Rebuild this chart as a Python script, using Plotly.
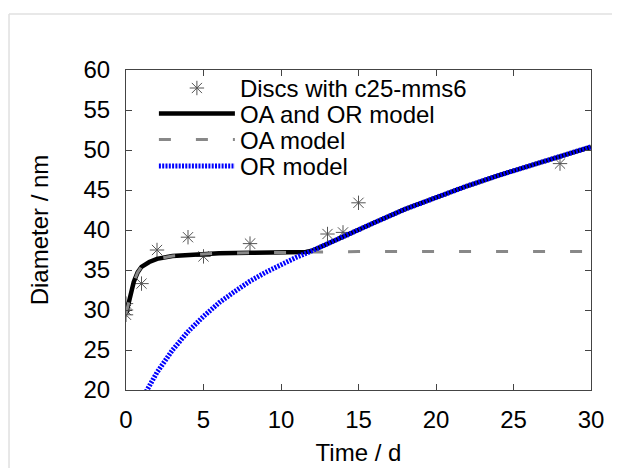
import plotly.graph_objects as go

# Observed data (Discs with c25-mms6)
t_obs = [0, 0, 0, 1, 2, 4, 5, 8, 13, 14, 15, 28]
d_obs = [29.4, 30.0, 30.8, 33.3, 37.5, 39.1, 36.7, 38.3, 39.5, 39.7, 43.4, 48.3]

# OA and OR model
t_oaor = [0, 0.1, 0.25, 0.5, 0.75, 1, 1.5, 2, 3, 4, 5, 6, 8, 10, 11.6,
          12, 13, 14, 16, 18, 20, 22, 24, 26, 28, 30]
d_oaor = [29.5, 30.4, 31.6, 33.5, 34.7, 35.4, 36.0, 36.4, 36.75, 36.9, 37.0, 37.1, 37.15, 37.2, 37.25,
          37.4, 38.3, 39.2, 40.9, 42.6, 44.1, 45.5, 46.8, 48.0, 49.2, 50.4]

# OA model
t_oa = [0, 0.1, 0.25, 0.5, 0.75, 1, 1.5, 2, 3, 4, 5, 6, 8, 10, 12, 15, 20, 25, 30]
d_oa = [29.5, 30.4, 31.6, 33.5, 34.7, 35.4, 36.0, 36.4, 36.75, 36.9, 37.0, 37.1, 37.15, 37.2, 37.25,
        37.3, 37.3, 37.3, 37.3]

# OR model
t_or = [1.3, 2, 3, 4, 5, 6, 7, 8, 9, 10, 11, 12, 13, 14, 16, 18, 20, 22, 24, 26, 28, 30]
d_or = [19.8, 22.2, 25.0, 27.3, 29.2, 30.9, 32.3, 33.6, 34.7, 35.7, 36.6, 37.4, 38.3, 39.2,
        40.9, 42.6, 44.1, 45.5, 46.8, 48.0, 49.2, 50.4]

x_ticks = [0, 5, 10, 15, 20, 25, 30]
y_ticks = [20, 25, 30, 35, 40, 45, 50, 55, 60]

FONT = "Liberation Sans, Arial, sans-serif"
FS = 24

fig = go.Figure()
fig.add_trace(go.Scatter(
    x=t_obs, y=d_obs, mode="markers", name="Discs with c25-mms6", legend="legend",
    marker=dict(symbol="asterisk-open", size=12, color="#555555",
                line=dict(color="#555555", width=1)),
))
fig.add_trace(go.Scatter(
    x=t_oaor, y=d_oaor, mode="lines", name="OA and OR model", legend="legend2",
    line=dict(color="black", width=4.5),
))
fig.add_trace(go.Scatter(
    x=t_oa, y=d_oa, mode="lines", name="OA model", legend="legend3",
    line=dict(color="#888888", width=3, dash="12px,25px"),
))
fig.add_trace(go.Scatter(
    x=t_or, y=d_or, mode="lines", name="OR model", legend="legend4",
    line=dict(color="#0000ff", width=5, dash="2px,1.3px"),
))

axis_common = dict(
    showline=True, linecolor="#444444", linewidth=1, mirror="ticks",
    ticks="inside", ticklen=6, tickcolor="#444444", tickwidth=1,
    showgrid=False, zeroline=False,
    tickfont=dict(family=FONT, size=FS, color="black"),
)

leg_x = 0.06
def leg(y):
    return dict(x=leg_x, y=y, xanchor="left", yanchor="top",
                bgcolor="rgba(0,0,0,0)", borderwidth=0, itemwidth=76,
                font=dict(family=FONT, size=FS, color="black"))

fig.update_layout(
    width=620, height=468,
    paper_bgcolor="white", plot_bgcolor="white",
    margin=dict(l=118, r=37, t=62, b=86),
    font=dict(family=FONT, size=FS, color="black"),
    xaxis=dict(range=[0, 30], tickvals=x_ticks, ticklabelstandoff=8,
               title=dict(text="Time / d", font=dict(family=FONT, size=FS), standoff=12),
               **axis_common),
    yaxis=dict(range=[20, 60], tickvals=y_ticks, ticklabelstandoff=10,
               title=dict(text="Diameter / nm", font=dict(family=FONT, size=FS), standoff=28),
               **axis_common),
    legend=leg(1.0128),
    legend2=leg(0.9331),
    legend3=leg(0.8519),
    legend4=leg(0.7691),
    showlegend=True,
    shapes=[
        dict(type="line", xref="paper", yref="paper", x0=-0.2516, y0=1.175, x1=1.3, y1=1.175,
             line=dict(color="#e0e0e0", width=1.5)),
        dict(type="line", xref="paper", yref="paper", x0=-0.2516, y0=1.175, x1=-0.2516, y1=-0.4,
             line=dict(color="#e0e0e0", width=1.5)),
    ],
)

fig.write_html("out.html")
